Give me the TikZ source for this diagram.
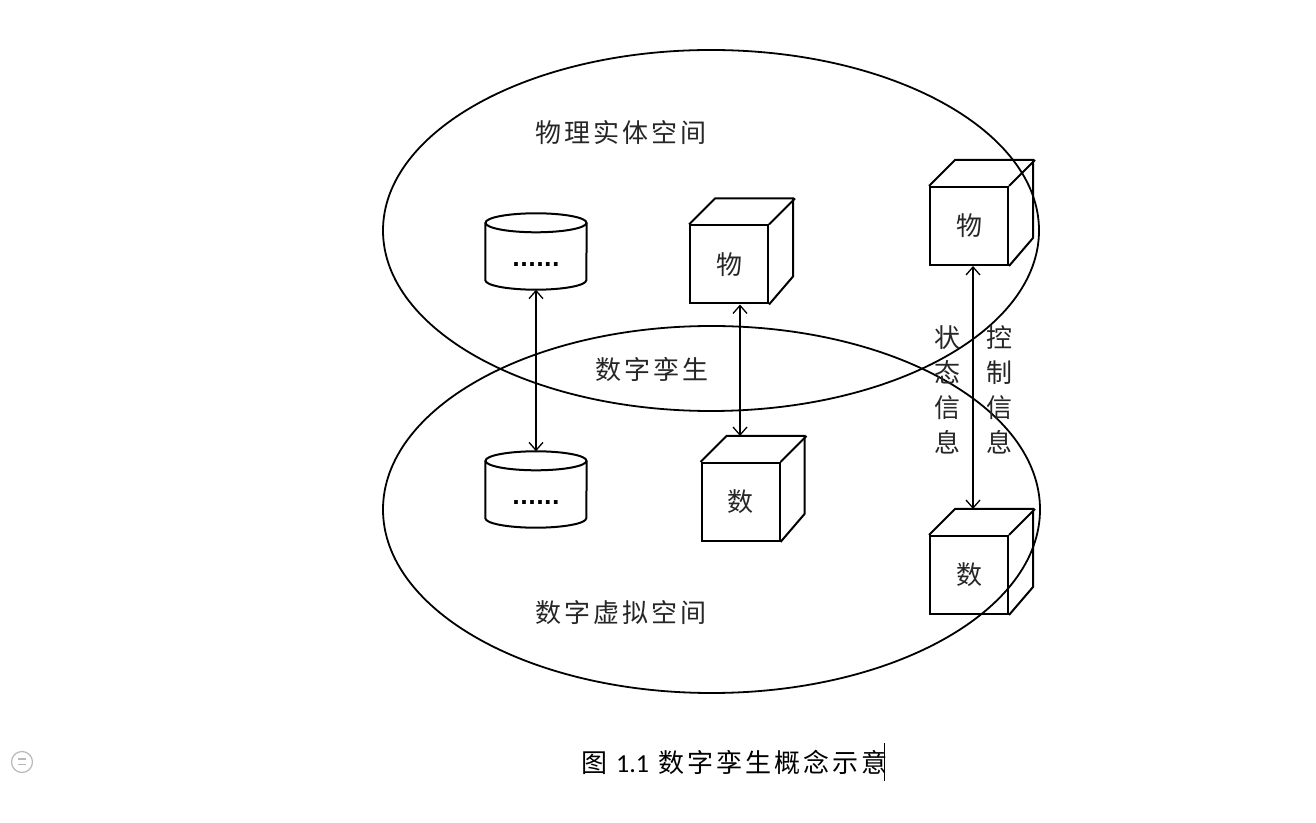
\documentclass[tikz,border=0pt]{standalone}
\usepackage{fontspec}
\newfontfamily\cjk{Noto Sans CJK SC}
\newfontfamily\cjksp[LetterSpace=12]{Noto Sans CJK SC}
\newfontfamily\capnum{Carlito}
\newfontfamily\dotfont{DejaVu Sans}
\usetikzlibrary{arrows.meta}
\newcommand\drawcube[4]{%
  \node[cubeface] (#1) at (#2,#3) {#4};
  \draw[boxline] (#1.north west) -- ++(26,26) -- ++(78,0) -- ++(0,-78) -- (#1.south east);
  \draw[boxline] (#1.north east) -- ++(26,26);
}
\newcommand\drawcyl[3]{%
  \node[cylbody] (#1) at (#2,#3) {\textbf{......}};
  \draw[boxline] ([yshift=-9.5pt]#1.north west) -- ([yshift=9.5pt]#1.south west)
    arc[start angle=180,end angle=360,x radius=50.5,y radius=9.5] -- ([yshift=-9.5pt]#1.north east);
  \draw[boxline] ([yshift=-9.5pt]#1.north) ellipse[x radius=50.5, y radius=9.5];
}
\begin{document}
\begin{tikzpicture}[x=1pt,y=1pt,
  spaceline/.style={draw, line width=1.8pt},
  boxline/.style={line width=2pt, line join=miter},
  cubeface/.style={draw, line width=2pt, minimum width=78pt, minimum height=78pt, inner sep=0pt,
    font=\cjk\fontsize{26}{26}\selectfont, text=black!85},
  cylbody/.style={minimum width=101pt, minimum height=76pt, inner sep=0pt, text height=31pt,
    text depth=0pt, font=\dotfont\fontsize{21}{21}\selectfont},
  link/.style={line width=1.3pt, {Straight Barb[length=8pt,width=14pt]}-{Straight Barb[length=8pt,width=14pt]}},
  lab/.style={font=\cjksp\fontsize{26}{26}\selectfont, inner sep=0pt, anchor=west, text=black!85},
  vlab/.style={font=\cjk\fontsize{26}{35}\selectfont, align=center, inner sep=0pt, text=black!85},
]
\useasboundingbox (0,0) rectangle (1316,822);
\fill[white] (0,0) rectangle (1316,822);

% the two spaces
\draw[spaceline] (711,591.5) ellipse[x radius=328, y radius=180.5];
\draw[spaceline] (711.5,312.5) ellipse[x radius=328.5, y radius=183.5];

% labels of the spaces
\node[lab] (phys) at (535,689) {物理实体空间};
\node[lab] (twin) at (595,452) {数字孪生};
\node[lab] (virt) at (535,209) {数字虚拟空间};

% cylinders
\drawcyl{c1}{536}{570.5}
\drawcyl{c2}{536}{332.5}

% cubes
\drawcube{A}{729}{557.5}{物}
\drawcube{B}{740.5}{320}{数}
\drawcube{C}{969}{596}{物}
\drawcube{D}{969}{247}{数}

% connectors
\draw[link] (c1.south) -- (c2.north);
\draw[link] ([xshift=11pt]A.south) -- ([xshift=-0.5pt,yshift=26pt]B.north);
\draw[link] ([xshift=4pt]C.south) -- ([xshift=4pt,yshift=26pt]D.north);

% vertical labels
\node[vlab] (state) at (947,432.5) {状\\态\\信\\息};
\node[vlab] (ctrl) at (999,432.5) {控\\制\\信\\息};

% caption
\node[lab, text=black] (cap) at (581,60) {图 {\capnum 1.1} 数字孪生概念示意};
\draw[line width=1pt] (884,41) -- (884,79);

% margin icon
\draw[gray!55, line width=1.2pt] (22,60) circle[radius=10.5];
\draw[gray!55, line width=1.2pt] (18,63) -- (26,63) (18,57.5) -- (26,57.5);
\end{tikzpicture}
\end{document}
